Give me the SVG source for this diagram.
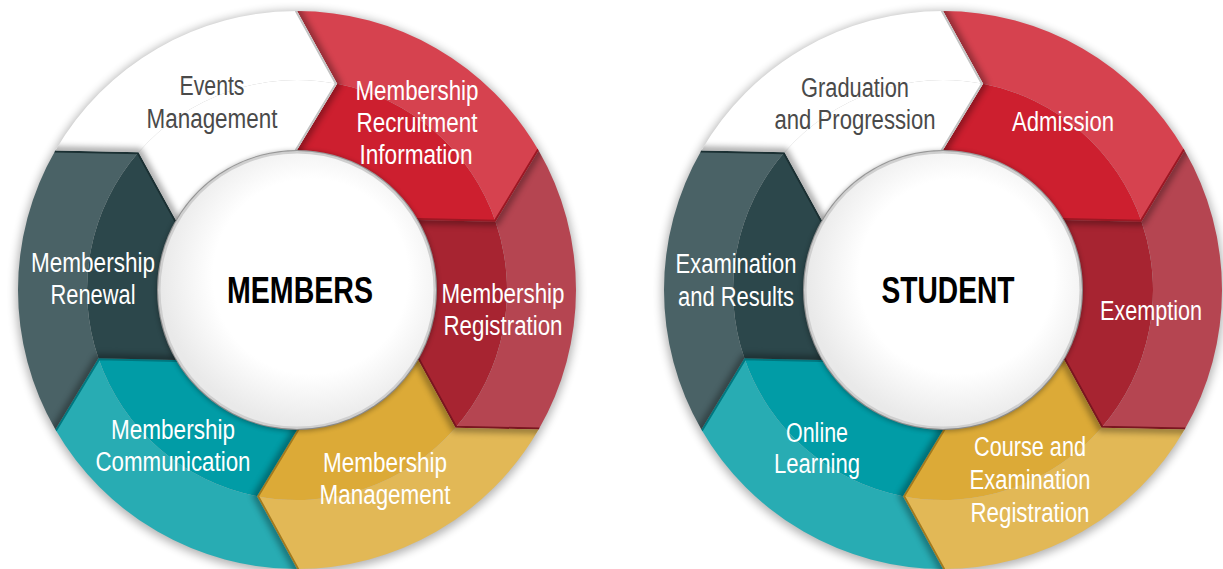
<svg xmlns="http://www.w3.org/2000/svg" xmlns:xlink="http://www.w3.org/1999/xlink" width="1223" height="569" viewBox="0 0 1223 569">
<style>
.lbl{font-family:'Liberation Sans Narrow','Liberation Sans',Arial,sans-serif;font-size:27px;text-anchor:middle;fill:#ffffff}
.dk{fill:#4a4a4a}
.ctr{font-family:'Liberation Sans Narrow','Liberation Sans',Arial,sans-serif;font-size:36px;font-weight:bold;text-anchor:middle;fill:#000000}
.shade{fill:none;stroke:#000;stroke-width:8;opacity:.35;stroke-linejoin:miter}
.tip{fill:none;stroke-width:4;stroke-linejoin:miter}
.red-i{fill:#cd1f2f}.red-o{fill:#d6424f}.red-t{stroke:#9c1723}
.dred-i{fill:#a72431}.dred-o{fill:#b54551}.dred-t{stroke:#7a1620}
.yel-i{fill:#dcaa37}.yel-o{fill:#e2b856}.yel-t{stroke:#a27a1f}
.teal-i{fill:#019ca6}.teal-o{fill:#28acb3}.teal-t{stroke:#007880}
.sla-i{fill:#2c474b}.sla-o{fill:#4a6266}.sla-t{stroke:#1b3033}
.wht-i{fill:#ffffff}.wht-o{fill:#ffffff}.wht-t{stroke:#c2c2c2}
</style>
<defs>
<path id="seg" d="M0,-279 A279,279 0 0 1 241.62,-139.5 L198.56,-68.37 L121.24,-70 A140,140 0 0 0 0,-140 L40.07,-206.14 Z"/>
<path id="outBand" d="M0,-279 A279,279 0 0 1 241.62,-139.5 L198.56,-68.37 A210,210 0 0 0 40.07,-206.14 Z"/>
<path id="inBand" d="M40.07,-206.14 A210,210 0 0 1 198.56,-68.37 L121.24,-70 A140,140 0 0 0 0,-140 Z"/>
<path id="notch" d="M0,-285 L0,-279 L40.07,-206.14 L0,-140 L0,-134"/>
<path id="tipEdge" d="M246,-142 L241.62,-139.5 L198.56,-68.37 L121.24,-70 L116,-70"/>
<clipPath id="segClip"><use xlink:href="#seg"/></clipPath>
<filter id="bl3" x="-1" y="-1" width="3" height="3"><feGaussianBlur stdDeviation="3"/></filter>
<filter id="bl5" x="-0.2" y="-0.2" width="1.4" height="1.4"><feGaussianBlur stdDeviation="5"/></filter>
<filter id="bl2" x="-0.2" y="-0.2" width="1.4" height="1.4"><feGaussianBlur stdDeviation="2.5"/></filter>
<radialGradient id="core" cx="0.55" cy="0.45" r="0.55">
<stop offset="0.65" stop-color="#ffffff"/>
<stop offset="1" stop-color="#e9e9e9"/>
</radialGradient>
</defs>

<!-- LEFT: MEMBERS -->
<circle cx="297" cy="292" r="281" fill="#000" opacity="0.3" filter="url(#bl5)"/>
<g id="n-recruitment">
<g transform="translate(297 290) rotate(0)">
<use xlink:href="#inBand" class="red-i"/><use xlink:href="#outBand" class="red-o"/>
<use xlink:href="#notch" class="shade" clip-path="url(#segClip)" filter="url(#bl3)"/>
<use xlink:href="#tipEdge" class="tip red-t" clip-path="url(#segClip)"/>
</g>
<text class="lbl" x="417" y="99.5" textLength="123" lengthAdjust="spacingAndGlyphs">Membership</text>
<text class="lbl" x="417" y="131.5" textLength="121" lengthAdjust="spacingAndGlyphs">Recruitment</text>
<text class="lbl" x="416" y="163.5" textLength="113" lengthAdjust="spacingAndGlyphs">Information</text>
</g>
<g id="n-registration">
<g transform="translate(297 290) rotate(60)">
<use xlink:href="#inBand" class="dred-i"/><use xlink:href="#outBand" class="dred-o"/>
<use xlink:href="#notch" class="shade" clip-path="url(#segClip)" filter="url(#bl3)"/>
<use xlink:href="#tipEdge" class="tip dred-t" clip-path="url(#segClip)"/>
</g>
<text class="lbl" x="503" y="302.5" textLength="123" lengthAdjust="spacingAndGlyphs">Membership</text>
<text class="lbl" x="503" y="335" textLength="119" lengthAdjust="spacingAndGlyphs">Registration</text>
</g>
<g id="n-management">
<g transform="translate(297 290) rotate(120)">
<use xlink:href="#inBand" class="yel-i"/><use xlink:href="#outBand" class="yel-o"/>
<use xlink:href="#notch" class="shade" clip-path="url(#segClip)" filter="url(#bl3)"/>
<use xlink:href="#tipEdge" class="tip yel-t" clip-path="url(#segClip)"/>
</g>
<text class="lbl" x="385" y="471.5" textLength="124" lengthAdjust="spacingAndGlyphs">Membership</text>
<text class="lbl" x="385" y="503.5" textLength="131" lengthAdjust="spacingAndGlyphs">Management</text>
</g>
<g id="n-communication">
<g transform="translate(297 290) rotate(180)">
<use xlink:href="#inBand" class="teal-i"/><use xlink:href="#outBand" class="teal-o"/>
<use xlink:href="#notch" class="shade" clip-path="url(#segClip)" filter="url(#bl3)"/>
<use xlink:href="#tipEdge" class="tip teal-t" clip-path="url(#segClip)"/>
</g>
<text class="lbl" x="173" y="438.5" textLength="124" lengthAdjust="spacingAndGlyphs">Membership</text>
<text class="lbl" x="173" y="470.5" textLength="155" lengthAdjust="spacingAndGlyphs">Communication</text>
</g>
<g id="n-renewal">
<g transform="translate(297 290) rotate(240)">
<use xlink:href="#inBand" class="sla-i"/><use xlink:href="#outBand" class="sla-o"/>
<use xlink:href="#notch" class="shade" clip-path="url(#segClip)" filter="url(#bl3)"/>
<use xlink:href="#tipEdge" class="tip sla-t" clip-path="url(#segClip)"/>
</g>
<text class="lbl" x="93" y="271.5" textLength="124" lengthAdjust="spacingAndGlyphs">Membership</text>
<text class="lbl" x="93" y="304" textLength="85" lengthAdjust="spacingAndGlyphs">Renewal</text>
</g>
<g id="n-events">
<g transform="translate(297 290) rotate(300)">
<use xlink:href="#inBand" class="wht-i"/><use xlink:href="#outBand" class="wht-o"/>
<use xlink:href="#notch" class="shade" clip-path="url(#segClip)" filter="url(#bl3)"/>
<use xlink:href="#tipEdge" class="tip wht-t" clip-path="url(#segClip)"/>
</g>
<text class="lbl dk" x="212" y="95" textLength="65" lengthAdjust="spacingAndGlyphs">Events</text>
<text class="lbl dk" x="212" y="127.5" textLength="131" lengthAdjust="spacingAndGlyphs">Management</text>
</g>
<g id="n-members">
<circle cx="297" cy="291" r="140.5" fill="#000" opacity="0.3" filter="url(#bl2)"/>
<circle cx="297" cy="290" r="139" fill="#cfcfcf"/>
<circle cx="297" cy="290" r="136.5" fill="url(#core)"/>
<text class="ctr" x="300" y="303" textLength="146" lengthAdjust="spacingAndGlyphs">MEMBERS</text>
</g>

<!-- RIGHT: STUDENT -->
<circle cx="943" cy="292" r="281" fill="#000" opacity="0.3" filter="url(#bl5)"/>
<g id="n-admission">
<g transform="translate(943 290) rotate(0)">
<use xlink:href="#inBand" class="red-i"/><use xlink:href="#outBand" class="red-o"/>
<use xlink:href="#notch" class="shade" clip-path="url(#segClip)" filter="url(#bl3)"/>
<use xlink:href="#tipEdge" class="tip red-t" clip-path="url(#segClip)"/>
</g>
<text class="lbl" x="1063" y="131" textLength="102" lengthAdjust="spacingAndGlyphs">Admission</text>
</g>
<g id="n-exemption">
<g transform="translate(943 290) rotate(60)">
<use xlink:href="#inBand" class="dred-i"/><use xlink:href="#outBand" class="dred-o"/>
<use xlink:href="#notch" class="shade" clip-path="url(#segClip)" filter="url(#bl3)"/>
<use xlink:href="#tipEdge" class="tip dred-t" clip-path="url(#segClip)"/>
</g>
<text class="lbl" x="1151" y="319.5" textLength="102" lengthAdjust="spacingAndGlyphs">Exemption</text>
</g>
<g id="n-course">
<g transform="translate(943 290) rotate(120)">
<use xlink:href="#inBand" class="yel-i"/><use xlink:href="#outBand" class="yel-o"/>
<use xlink:href="#notch" class="shade" clip-path="url(#segClip)" filter="url(#bl3)"/>
<use xlink:href="#tipEdge" class="tip yel-t" clip-path="url(#segClip)"/>
</g>
<text class="lbl" x="1030" y="455.5" textLength="112" lengthAdjust="spacingAndGlyphs">Course and</text>
<text class="lbl" x="1030" y="488.5" textLength="121" lengthAdjust="spacingAndGlyphs">Examination</text>
<text class="lbl" x="1030" y="521.5" textLength="119" lengthAdjust="spacingAndGlyphs">Registration</text>
</g>
<g id="n-online">
<g transform="translate(943 290) rotate(180)">
<use xlink:href="#inBand" class="teal-i"/><use xlink:href="#outBand" class="teal-o"/>
<use xlink:href="#notch" class="shade" clip-path="url(#segClip)" filter="url(#bl3)"/>
<use xlink:href="#tipEdge" class="tip teal-t" clip-path="url(#segClip)"/>
</g>
<text class="lbl" x="817" y="441.5" textLength="62" lengthAdjust="spacingAndGlyphs">Online</text>
<text class="lbl" x="817" y="472.5" textLength="86" lengthAdjust="spacingAndGlyphs">Learning</text>
</g>
<g id="n-exam">
<g transform="translate(943 290) rotate(240)">
<use xlink:href="#inBand" class="sla-i"/><use xlink:href="#outBand" class="sla-o"/>
<use xlink:href="#notch" class="shade" clip-path="url(#segClip)" filter="url(#bl3)"/>
<use xlink:href="#tipEdge" class="tip sla-t" clip-path="url(#segClip)"/>
</g>
<text class="lbl" x="736" y="272.5" textLength="121" lengthAdjust="spacingAndGlyphs">Examination</text>
<text class="lbl" x="736" y="305.5" textLength="116" lengthAdjust="spacingAndGlyphs">and Results</text>
</g>
<g id="n-graduation">
<g transform="translate(943 290) rotate(300)">
<use xlink:href="#inBand" class="wht-i"/><use xlink:href="#outBand" class="wht-o"/>
<use xlink:href="#notch" class="shade" clip-path="url(#segClip)" filter="url(#bl3)"/>
<use xlink:href="#tipEdge" class="tip wht-t" clip-path="url(#segClip)"/>
</g>
<text class="lbl dk" x="855" y="96.5" textLength="108" lengthAdjust="spacingAndGlyphs">Graduation</text>
<text class="lbl dk" x="855" y="128.5" textLength="161" lengthAdjust="spacingAndGlyphs">and Progression</text>
</g>
<g id="n-student">
<circle cx="943" cy="291" r="140.5" fill="#000" opacity="0.3" filter="url(#bl2)"/>
<circle cx="943" cy="290" r="139" fill="#cfcfcf"/>
<circle cx="943" cy="290" r="136.5" fill="url(#core)"/>
<text class="ctr" x="948" y="303" textLength="133" lengthAdjust="spacingAndGlyphs">STUDENT</text>
</g>
<g id="connectors"/>
</svg>
